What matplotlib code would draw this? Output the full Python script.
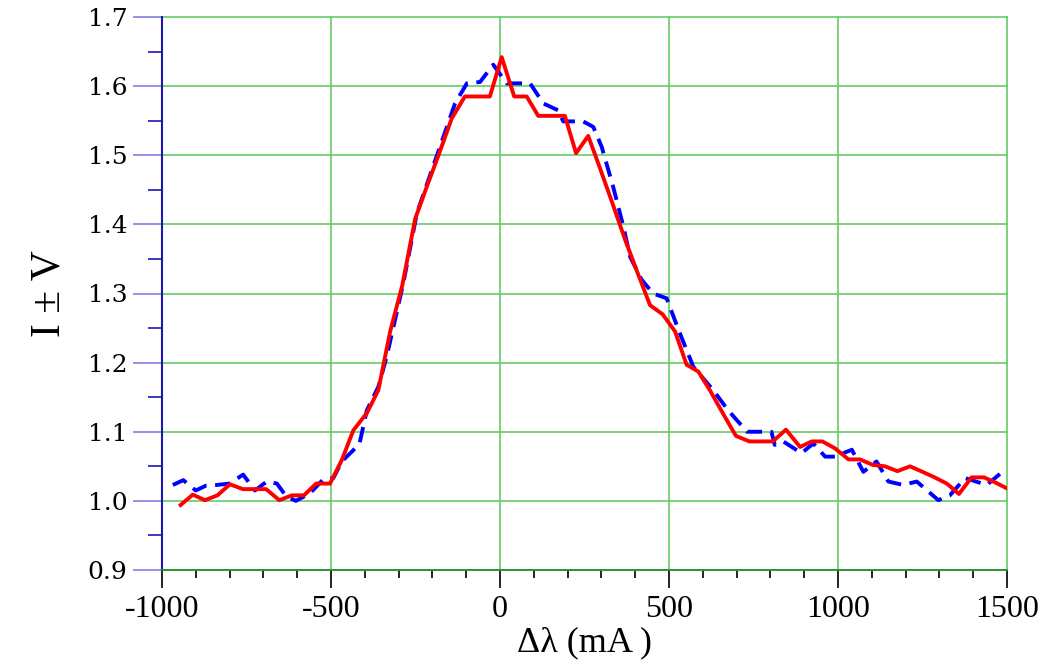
import matplotlib
matplotlib.use("Agg")
import matplotlib.pyplot as plt
from matplotlib.ticker import MultipleLocator

# Red (solid) series
red_x = [-945, -909, -873, -836, -799, -761, -727, -692, -653, -616, -580, -544,
         -503, -468, -434, -394, -360, -325, -289, -251, -217, -182, -143, -104,
         -67, -30, 5, 42, 79, 113, 150, 192, 225, 261, 296, 333, 370, 407, 444,
         481, 518, 552, 587, 621, 659, 698, 738, 772, 807, 846, 888, 922, 954,
         991, 1031, 1065, 1103, 1139, 1176, 1213, 1250, 1286, 1322, 1358, 1395,
         1432, 1468, 1500]
red_y = [0.994, 1.009, 1.001, 1.008, 1.024, 1.017, 1.017, 1.017, 1.001, 1.008,
         1.008, 1.025, 1.025, 1.059, 1.102, 1.127, 1.160, 1.245, 1.312, 1.408,
         1.454, 1.500, 1.553, 1.585, 1.585, 1.585, 1.642, 1.585, 1.585, 1.557,
         1.557, 1.557, 1.503, 1.528, 1.481, 1.430, 1.378, 1.330, 1.283, 1.270,
         1.245, 1.197, 1.187, 1.160, 1.127, 1.094, 1.086, 1.086, 1.086, 1.103,
         1.078, 1.086, 1.086, 1.076, 1.060, 1.060, 1.052, 1.050, 1.043, 1.050,
         1.042, 1.034, 1.025, 1.010, 1.034, 1.034, 1.026, 1.018]

# Blue (dashed) series
blue_x = [-968, -937, -900, -870, -838, -800, -760, -725, -690, -660, -633, -604,
          -562, -523, -493, -468, -416, -394, -360, -335, -286, -246, -190, -133,
          -98, -59, -20, 20, 89, 128, 172, 187, 246, 276, 301, 335, 365, 385, 419,
          453, 493, 530, 572, 631, 675, 731, 803, 813, 838, 892, 927, 962, 991,
          1041, 1075, 1114, 1149, 1193, 1233, 1297, 1331, 1376, 1440, 1479]
blue_y = [1.023, 1.030, 1.015, 1.022, 1.023, 1.025, 1.038, 1.015, 1.028, 1.025,
          1.007, 1.000, 1.011, 1.031, 1.033, 1.057, 1.082, 1.131, 1.165, 1.209,
          1.315, 1.416, 1.495, 1.575, 1.604, 1.606, 1.631, 1.604, 1.604, 1.575,
          1.565, 1.549, 1.549, 1.541, 1.512, 1.454, 1.397, 1.353, 1.320, 1.300,
          1.293, 1.245, 1.194, 1.160, 1.131, 1.100, 1.100, 1.081, 1.086, 1.069,
          1.083, 1.064, 1.064, 1.074, 1.042, 1.057, 1.028, 1.023, 1.028, 1.001,
          1.008, 1.033, 1.023, 1.039]

x_ticks = [-1000, -500, 0, 500, 1000, 1500]
y_ticks = [0.9, 1.0, 1.1, 1.2, 1.3, 1.4, 1.5, 1.6, 1.7]

fig = plt.figure(figsize=(10.56, 6.64), dpi=100)
ax = fig.add_axes([162 / 1056, 1 - 570 / 664, 845 / 1056, 553 / 664])

ax.plot(blue_x, blue_y, color="#0000ff", lw=2.8, dashes=(4, 2.2), zorder=3)
ax.plot(red_x, red_y, color="#ff0000", lw=2.8, zorder=4)

ax.set_xlim(-1000, 1500)
ax.set_ylim(0.9, 1.7)
ax.set_xticks(x_ticks)
ax.set_yticks(y_ticks)
ax.set_xticklabels([str(v) for v in x_ticks], fontfamily="Liberation Serif", fontsize=23)
ax.set_yticklabels([f"{v:.1f}" for v in y_ticks], fontfamily="DejaVu Serif", fontsize=18)
ax.xaxis.set_minor_locator(MultipleLocator(100))
ax.yaxis.set_minor_locator(MultipleLocator(0.05))

ax.grid(True, which="major", color="#66cc66", lw=1.2, zorder=1)
for g in ax.get_xgridlines() + ax.get_ygridlines():
    g.set_clip_on(False)

ax.tick_params(axis="x", which="major", direction="out", length=13, width=1.2,
               color="black", pad=5)
ax.tick_params(axis="x", which="minor", direction="out", length=6, width=1.2,
               color="black")
ax.tick_params(axis="y", which="major", direction="out", length=21, width=1.2,
               color="#8080e0", pad=4)
ax.tick_params(axis="y", which="minor", direction="out", length=10, width=1.2,
               color="#1a1ab0")

for s in ("top", "right"):
    ax.spines[s].set_visible(False)
ax.spines["left"].set_color("#1a1ab0")
ax.spines["left"].set_linewidth(1.5)
ax.spines["bottom"].set_color("#228822")
ax.spines["bottom"].set_linewidth(1.2)

ax.set_xlabel("Δλ (mA )", fontfamily="Liberation Serif", fontsize=26, labelpad=2)
ax.set_ylabel("I ± V", fontfamily="Liberation Serif", fontsize=30, labelpad=14)

fig.savefig("out.png", dpi=100)
